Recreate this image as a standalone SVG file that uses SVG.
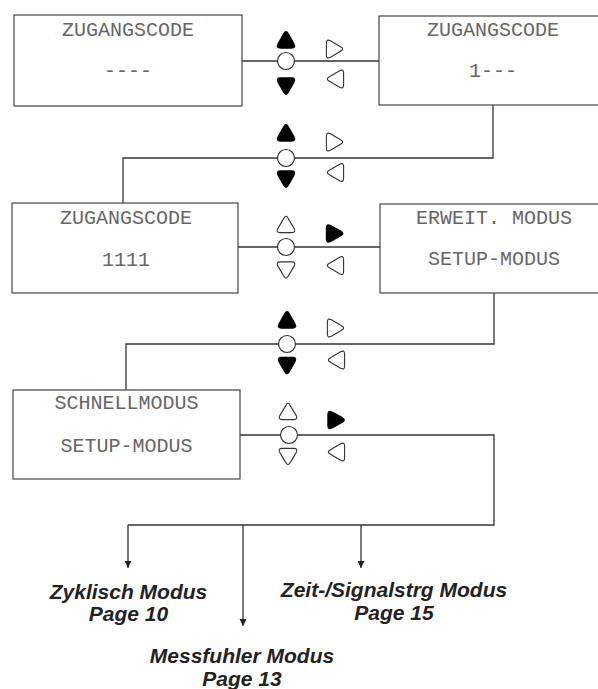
<svg xmlns="http://www.w3.org/2000/svg" xmlns:xlink="http://www.w3.org/1999/xlink" width="598" height="689" viewBox="0 0 598 689">
<style>
.box{fill:#fff;stroke:#444;stroke-width:1.2}
.lcd{font-family:"Liberation Mono","Courier New",monospace;font-size:20px;fill:#666;text-anchor:middle}
.wire{fill:none;stroke:#333;stroke-width:1.3}
.knob{fill:#fff;stroke:#333;stroke-width:1.2}
.on{fill:#000;stroke:#000;stroke-width:2;stroke-linejoin:round}
.off{fill:#fff;stroke:#333;stroke-width:1.1;stroke-linejoin:round}
.lbl{font-family:"Liberation Sans",Arial,sans-serif;font-size:21px;font-weight:bold;font-style:italic;fill:#222;text-anchor:middle}
</style>
<defs>
<path id="tri" d="M -2,-5.6 Q 0,-9.2 2,-5.6 L 7.6,4.6 Q 9.6,8.2 5.6,8.2 L -5.6,8.2 Q -9.6,8.2 -7.6,4.6 Z"/>
<path id="tri2" d="M -2.2,-5.6 Q 0,-9.8 2.2,-5.6 L 8.2,4.6 Q 10.2,8.6 6,8.6 L -6,8.6 Q -10.2,8.6 -8.2,4.6 Z"/>
<marker id="ah" markerUnits="userSpaceOnUse" markerWidth="8" markerHeight="8" refX="7" refY="3.5" orient="auto">
<path d="M0,0 L7,3.5 L0,7 Z" fill="#222"/>
</marker>
</defs>

<g id="connectors">
<path class="wire" d="M242,61 L379,61"/>
<path class="wire" d="M493,105 L493,158 L123,158 L123,203"/>
<path class="wire" d="M238,247 L380,247"/>
<path class="wire" d="M494,293 L494,344 L126,344 L126,390"/>
<path class="wire" d="M240,435 L494,435 L494,525 L128,525"/>
<path class="wire" d="M128,525 L128,568" marker-end="url(#ah)"/>
<path class="wire" d="M243,525 L243,626" marker-end="url(#ah)"/>
<path class="wire" d="M361,525 L361,568" marker-end="url(#ah)"/>
</g>

<g id="node-zugangscode-empty">
<rect class="box" x="14" y="15" width="228" height="91"/>
<text class="lcd" x="128" y="36">ZUGANGSCODE</text>
<text class="lcd" x="128" y="77">----</text>
</g>
<g id="node-zugangscode-1">
<rect class="box" x="379" y="16" width="228" height="89"/>
<text class="lcd" x="493" y="36">ZUGANGSCODE</text>
<text class="lcd" x="493" y="77">1---</text>
</g>
<g id="node-zugangscode-1111">
<rect class="box" x="12" y="203" width="226" height="90"/>
<text class="lcd" x="126" y="224">ZUGANGSCODE</text>
<text class="lcd" x="126" y="266">1111</text>
</g>
<g id="node-erweit-modus">
<rect class="box" x="380" y="204" width="228" height="89"/>
<text class="lcd" x="494" y="224">ERWEIT. MODUS</text>
<text class="lcd" x="494" y="265">SETUP-MODUS</text>
</g>
<g id="node-schnellmodus">
<rect class="box" x="13" y="390" width="227" height="89"/>
<text class="lcd" x="126.5" y="409">SCHNELLMODUS</text>
<text class="lcd" x="126.5" y="452">SETUP-MODUS</text>
</g>

<g id="buttons-row1">
<use href="#tri" class="on" transform="translate(286,39.5)"/>
<circle class="knob" cx="286" cy="61" r="8.5"/>
<use href="#tri" class="on" transform="translate(286,86.5) rotate(180)"/>
<use href="#tri2" class="off" transform="translate(335,49) rotate(90)"/>
<use href="#tri2" class="off" transform="translate(335,79) rotate(-90)"/>
</g>
<g id="buttons-row2">
<use href="#tri" class="on" transform="translate(286,132.5)"/>
<circle class="knob" cx="286" cy="158" r="8.5"/>
<use href="#tri" class="on" transform="translate(286,179.5) rotate(180)"/>
<use href="#tri2" class="off" transform="translate(335,142) rotate(90)"/>
<use href="#tri2" class="off" transform="translate(335,172.5) rotate(-90)"/>
</g>
<g id="buttons-row3">
<use href="#tri2" class="off" transform="translate(286,224)"/>
<circle class="knob" cx="286" cy="247" r="8.5"/>
<use href="#tri2" class="off" transform="translate(286,270.5) rotate(180)"/>
<use href="#tri" class="on" transform="translate(335,233.5) rotate(90)"/>
<use href="#tri2" class="off" transform="translate(335,265.5) rotate(-90)"/>
</g>
<g id="buttons-row4">
<use href="#tri" class="on" transform="translate(287,319.5)"/>
<circle class="knob" cx="287" cy="344" r="8.5"/>
<use href="#tri" class="on" transform="translate(287,366) rotate(180)"/>
<use href="#tri2" class="off" transform="translate(336,328) rotate(90)"/>
<use href="#tri2" class="off" transform="translate(336,360) rotate(-90)"/>
</g>
<g id="buttons-row5">
<use href="#tri2" class="off" transform="translate(288,411)"/>
<circle class="knob" cx="289" cy="435" r="8.5"/>
<use href="#tri2" class="off" transform="translate(288,457) rotate(180)"/>
<use href="#tri" class="on" transform="translate(336.5,420) rotate(90)"/>
<use href="#tri2" class="off" transform="translate(336,452) rotate(-90)"/>
</g>

<g id="target-zyklisch">
<text class="lbl" x="128.5" y="599">Zyklisch Modus</text>
<text class="lbl" x="128.5" y="621">Page 10</text>
</g>
<g id="target-messfuhler">
<text class="lbl" x="242" y="663">Messfuhler Modus</text>
<text class="lbl" x="242" y="686">Page 13</text>
</g>
<g id="target-zeit">
<text class="lbl" x="394" y="597">Zeit-/Signalstrg Modus</text>
<text class="lbl" x="394" y="620">Page 15</text>
</g>
</svg>
